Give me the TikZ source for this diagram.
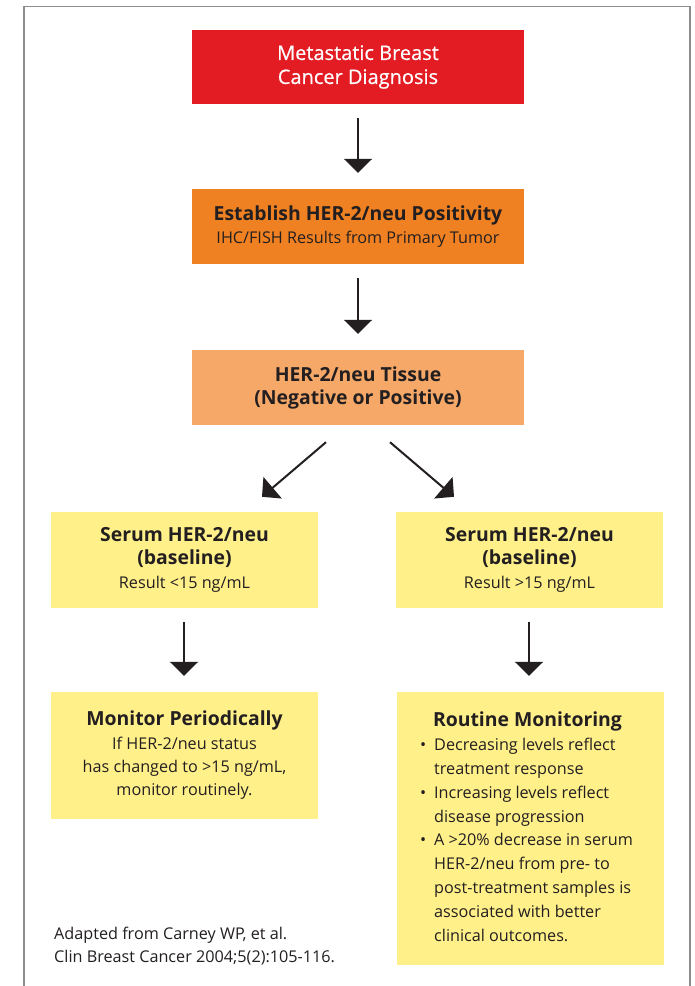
\documentclass[tikz,border=0pt]{standalone}
\usepackage{fontspec}
\setmainfont{Open Sans}
\newfontfamily\medfont{Open Sans}[FakeBold=0.6]
\usetikzlibrary{arrows.meta}
\usetikzlibrary{positioning}

\definecolor{dxred}{RGB}{227,27,35}
\definecolor{herorange}{RGB}{240,129,34}
\definecolor{tissueorange}{RGB}{246,168,104}
\definecolor{serumyellow}{RGB}{255,240,138}
\definecolor{textgray}{RGB}{35,31,32}
\definecolor{framegray}{RGB}{140,140,140}

\newcommand{\bigtxt}{\fontsize{19.4}{23}\selectfont}
\newcommand{\smalltxt}{\fontsize{16.2}{23.8}\selectfont}
\newcommand{\titletxt}{\medfont\fontsize{20}{24}\selectfont}

\begin{document}
\begin{tikzpicture}[x=1pt,y=-1pt,
  box/.style={rectangle,draw=none,inner sep=0pt,align=center,text=textgray,font=\bigtxt},
  widebox/.style={box,minimum width=332pt,minimum height=75pt},
  sidebox/.style={box,fill=serumyellow,minimum width=267pt},
  arr/.style={line width=2pt,draw=textgray,-{Triangle[length=14pt,width=28pt]},shorten <=14pt,shorten >=16pt},
  slant/.style={line width=2pt,draw=textgray,-{Triangle[length=14pt,width=28pt]}}]
\useasboundingbox (0,0) rectangle (694,986);
\fill[white] (0,0) rectangle (694,986);
\draw[framegray,line width=1.5pt] (24,986) -- (24,6.5) -- (690,6.5) -- (690,986);

% top column
\node[widebox,fill=dxred,text=white,minimum height=74pt,font=\titletxt] (dx) at (358,67) {Metastatic Breast\\Cancer Diagnosis};
\node[widebox,fill=herorange] (her) at (358,226.5) {\textbf{Establish HER-2/neu Positivity}\\{\smalltxt IHC/FISH Results from Primary Tumor}};
\node[widebox,fill=tissueorange] (tissue) at (358,387.5) {\textbf{HER-2/neu Tissue}\\\textbf{(Negative or Positive)}};

% serum level boxes
\node[sidebox,minimum height=96pt] (serumL) at (184.5,560) {\textbf{Serum HER-2/neu}\\\textbf{(baseline)}\\[1pt]{\smalltxt Result <15 ng/mL}};
\node[sidebox,minimum height=96pt] (serumR) at (529.5,560) {\textbf{Serum HER-2/neu}\\\textbf{(baseline)}\\[1pt]{\smalltxt Result >15 ng/mL}};

% follow-up boxes
\node[sidebox,minimum height=127pt] (monitor) at (184.5,755.5) {\textbf{Monitor Periodically}\\[1pt]{\smalltxt If HER-2/neu status}\\{\smalltxt has changed to >15 ng/mL,}\\{\smalltxt monitor routinely.}};
\node[sidebox,minimum height=273pt] (routine) at (530.5,828.5) {};
\node[box,anchor=base] (routineT) at (527.5,726) {\textbf{Routine Monitoring}};
\node[box,anchor=north west,align=left,font=\smalltxt] (routineL) at (420,738) {%
\makebox[14pt][l]{\textbullet}Decreasing levels reflect\\
\hspace*{14pt}treatment response\\
\makebox[14pt][l]{\textbullet}Increasing levels reflect\\
\hspace*{14pt}disease progression\\
\makebox[14pt][l]{\textbullet}A >20\% decrease in serum\\
\hspace*{14pt}HER-2/neu from pre- to\\
\hspace*{14pt}post-treatment samples is\\
\hspace*{14pt}associated with better\\
\hspace*{14pt}clinical outcomes.};

% source
\node[box,anchor=base west,font=\smalltxt] (cite1) at (54,939) {Adapted from Carney WP, et al.};
\node[box,anchor=base west,font=\smalltxt] (cite2) at (54,962) {Clin Breast Cancer 2004;5(2):105-116.};

% arrows
\draw[arr] (dx) -- (her);
\draw[arr] (her) -- (tissue);
\draw[slant] ([xshift=-32pt,yshift=-17pt]tissue.south) -- ([xshift=77.5pt,yshift=15pt]serumL.north);
\draw[slant] ([xshift=32pt,yshift=-17pt]tissue.south) -- ([xshift=-75.5pt,yshift=15pt]serumR.north);
\draw[arr] ([xshift=-0.5pt]serumL.south) -- ([xshift=-0.5pt]monitor.north);
\draw[arr] ([xshift=-0.5pt]serumR.south) -- ([xshift=-1.5pt]routine.north);

\end{tikzpicture}
\end{document}
